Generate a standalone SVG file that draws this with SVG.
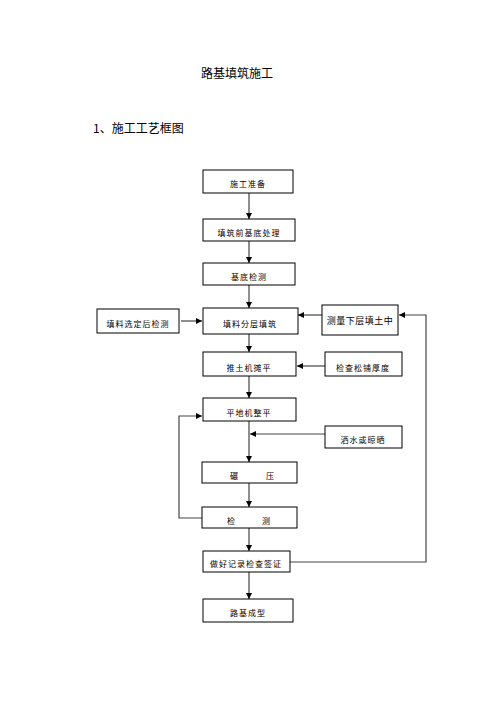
<svg xmlns="http://www.w3.org/2000/svg" width="496" height="702" viewBox="0 0 496 702">
<style>
.box{fill:#fff;stroke:#000;stroke-width:1}
.t{font-family:"Noto Sans CJK SC","Noto Sans CJK JP",sans-serif;font-size:8px;fill:#000;letter-spacing:1px}
.h{font-family:"Noto Sans CJK SC","Noto Sans CJK JP",sans-serif;font-size:12px;fill:#000}
.ln{fill:none;stroke:#444;stroke-width:1.2}
</style>
<defs>
<marker id="a" viewBox="0 0 8 8" refX="8" refY="4" markerWidth="6" markerHeight="6" orient="auto" markerUnits="userSpaceOnUse">
<path d="M0,0 L8,4 L0,8 z" fill="#000"/>
</marker>
</defs>
<rect width="496" height="702" fill="#fff"/>
<text class="h" x="237" y="78" text-anchor="middle">路基填筑施工</text>
<text class="h" x="93" y="133">1、施工工艺框图</text>
<g id="connectors">
<path class="ln" d="M249,193 V219" marker-end="url(#a)"/>
<path class="ln" d="M249,241 V263" marker-end="url(#a)"/>
<path class="ln" d="M249,285 V308" marker-end="url(#a)"/>
<path class="ln" d="M181,321 H202" marker-end="url(#a)"/>
<path class="ln" d="M322,315 H298" marker-end="url(#a)"/>
<path class="ln" d="M249,334 V352" marker-end="url(#a)"/>
<path class="ln" d="M325,366 H297" marker-end="url(#a)"/>
<path class="ln" d="M249,376 V398" marker-end="url(#a)"/>
<path class="ln" d="M325,434 H250" marker-end="url(#a)"/>
<path class="ln" d="M249,421 V462" marker-end="url(#a)"/>
<path class="ln" d="M249,483 V507" marker-end="url(#a)"/>
<path class="ln" d="M202,518 H179 V416 H202" marker-end="url(#a)"/>
<path class="ln" d="M249,528 V551" marker-end="url(#a)"/>
<path class="ln" d="M249,572 V599" marker-end="url(#a)"/>
<path class="ln" d="M290,562 H426 V315 H399" marker-end="url(#a)"/>
</g>
<g id="n1"><rect class="box" x="203" y="170" width="90" height="23"/><text class="t" x="248" y="187" text-anchor="middle">施工准备</text></g>
<g id="n2"><rect class="box" x="203" y="219" width="92" height="22"/><text class="t" x="249" y="236" text-anchor="middle">填筑前基底处理</text></g>
<g id="n3"><rect class="box" x="203" y="263" width="92" height="22"/><text class="t" x="249" y="280" text-anchor="middle">基底检测</text></g>
<g id="n4"><rect class="box" x="203" y="308" width="95" height="26"/><text class="t" x="250" y="327" text-anchor="middle">填料分层填筑</text></g>
<g id="n5"><rect class="box" x="97" y="309" width="82" height="24"/><text class="t" x="138" y="327" text-anchor="middle">填料选定后检测</text></g>
<g id="n6"><rect class="box" x="322" y="305" width="76" height="30"/><text class="t" x="360" y="324" text-anchor="middle" style="font-size:9px;letter-spacing:0.5px">测量下层填土中</text></g>
<g id="n7"><rect class="box" x="203" y="352" width="93" height="24"/><text class="t" x="249" y="371" text-anchor="middle">推土机摊平</text></g>
<g id="n8"><rect class="box" x="325" y="352" width="77" height="24"/><text class="t" x="363" y="371" text-anchor="middle">检查松铺厚度</text></g>
<g id="n9"><rect class="box" x="203" y="398" width="93" height="23"/><text class="t" x="249" y="416" text-anchor="middle">平地机整平</text></g>
<g id="n10"><rect class="box" x="325" y="426" width="77" height="22"/><text class="t" x="363" y="443" text-anchor="middle">洒水或晾晒</text></g>
<g id="n11"><rect class="box" x="202" y="462" width="95" height="21"/><text class="t" x="230" y="479">碾</text><text class="t" x="266" y="479">压</text></g>
<g id="n12"><rect class="box" x="202" y="507" width="95" height="21"/><text class="t" x="227" y="524">检</text><text class="t" x="262" y="524">测</text></g>
<g id="n13"><rect class="box" x="203" y="551" width="87" height="21"/><text class="t" x="246" y="567" text-anchor="middle">做好记录检查签证</text></g>
<g id="n14"><rect class="box" x="203" y="599" width="90" height="23"/><text class="t" x="248" y="616" text-anchor="middle">路基成型</text></g>
</svg>
